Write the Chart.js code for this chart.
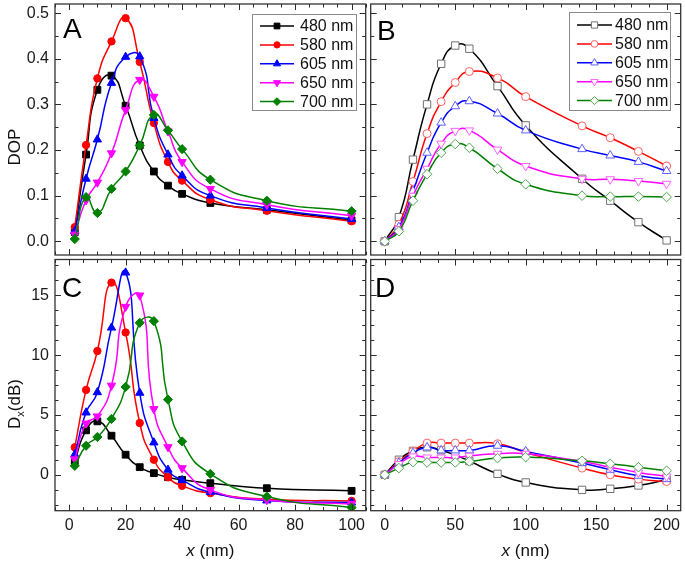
<!DOCTYPE html>
<html><head><meta charset="utf-8">
<script src="https://cdn.jsdelivr.net/npm/chart.js@4.4.1/dist/chart.umd.min.js"></script>
<style>
html,body{margin:0;padding:0;background:#fff;}
#wrap{position:relative;width:685px;height:564px;overflow:hidden;background:#fff;}
#wrap canvas{position:absolute;left:0;top:0;}
</style></head><body>
<div id="wrap">
<canvas id="cA" width="685" height="564"></canvas>
<canvas id="cB" width="685" height="564"></canvas>
<canvas id="cC" width="685" height="564"></canvas>
<canvas id="cD" width="685" height="564"></canvas>
</div>
<script>
// ---------- data ----------
const seriesLabels = ['480 nm', '580 nm', '605 nm', '650 nm', '700 nm'];

// panels A and C (filled markers)
const xAC = [2, 6, 10, 15, 20, 25, 30, 35, 40, 50, 70, 100];
const dopA480 = [0.020, 0.190, 0.332, 0.363, 0.297, 0.210, 0.153, 0.122, 0.104, 0.084, 0.069, 0.046];
const dopA580 = [0.031, 0.211, 0.357, 0.438, 0.489, 0.393, 0.259, 0.174, 0.133, 0.091, 0.067, 0.044];
const dopA605 = [0.022, 0.137, 0.223, 0.347, 0.404, 0.405, 0.270, 0.190, 0.144, 0.100, 0.073, 0.049];
const dopA650 = [0.015, 0.090, 0.129, 0.193, 0.288, 0.354, 0.317, 0.241, 0.174, 0.115, 0.080, 0.056];
const dopA700 = [0.005, 0.097, 0.062, 0.115, 0.153, 0.210, 0.277, 0.243, 0.202, 0.135, 0.089, 0.066];

const dxC480 = [1.15, 3.72, 4.47, 3.27, 1.68, 0.64, 0.14, -0.20, -0.42, -0.70, -1.12, -1.34];
const dxC580 = [2.30, 7.10, 10.35, 16.07, 11.90, 4.33, 1.26, -0.20, -0.92, -1.53, -2.04, -2.18];
const dxC605 = [1.70, 5.20, 6.90, 12.30, 16.90, 6.85, 2.70, 0.42, -0.45, -1.45, -2.15, -2.32];
const dxC650 = [1.30, 4.30, 4.89, 7.46, 14.05, 15.00, 5.50, 2.32, 0.56, -1.26, -2.10, -2.43];
const dxC700 = [0.75, 2.43, 3.16, 4.67, 7.35, 12.71, 12.85, 6.29, 2.79, 0.08, -1.82, -2.74];

// panels B and D (open markers)
const xBD = [0, 10, 20, 30, 40, 50, 60, 80, 100, 140, 160, 180, 200];
const dopB480 = [0, 0.053, 0.179, 0.300, 0.389, 0.429, 0.422, 0.340, 0.254, 0.137, 0.089, 0.042, 0.002];
const dopB580 = [0, 0.037, 0.131, 0.236, 0.306, 0.348, 0.372, 0.358, 0.317, 0.253, 0.227, 0.197, 0.165];
const dopB605 = [0, 0.031, 0.110, 0.194, 0.260, 0.296, 0.307, 0.280, 0.243, 0.202, 0.188, 0.174, 0.154];
const dopB650 = [0, 0.027, 0.100, 0.159, 0.214, 0.242, 0.243, 0.201, 0.165, 0.137, 0.136, 0.132, 0.126];
const dopB700 = [0, 0.022, 0.089, 0.147, 0.194, 0.213, 0.205, 0.159, 0.125, 0.100, 0.098, 0.098, 0.097];

const dxD480 = [0, 1.26, 2.00, 2.30, 2.05, 1.65, 1.15, 0.08, -0.64, -1.26, -1.17, -0.89, -0.42];
const dxD580 = [0, 1.10, 1.96, 2.65, 2.65, 2.65, 2.65, 2.60, 1.87, 0.56, 0.00, -0.36, -0.56];
const dxD605 = [0, 1.00, 1.82, 2.29, 2.04, 2.04, 2.04, 2.43, 1.96, 0.98, 0.42, -0.08, -0.36];
const dxD650 = [0, 0.90, 1.54, 1.45, 1.45, 1.45, 1.59, 1.76, 1.76, 1.12, 0.64, 0.20, -0.14];
const dxD700 = [0, 0.56, 1.06, 1.03, 1.03, 1.03, 1.12, 1.40, 1.48, 1.17, 0.92, 0.64, 0.34];

// tick labels
const xTicksAC = [0, 20, 40, 60, 80, 100];
const xTicksBD = [0, 50, 100, 150, 200];
const yTicksAB = [0.0, 0.1, 0.2, 0.3, 0.4, 0.5];
const yTicksCD = [0, 5, 10, 15];

// ---------- styles ----------
const FONT = "'Liberation Sans', Arial, Helvetica, sans-serif";
const seriesColors = ['#000000', '#ff0000', '#0000ff', '#ff00ff', '#008000'];
const openEdge = ['#707070', '#ff6060', '#6060ff', '#ff60ff', '#50a850'];
const pStyles = ['rect', 'circle', 'triangle', 'triangle', 'rectRot'];
const pRot = [0, 0, 0, 180, 0];
const pRadFilled = [4.8, 3.7, 4.8, 4.8, 4.6];
const pRadOpen = [5.2, 4.0, 5.0, 5.0, 4.8];

function marker(ctx, style, rot, r, x, y) {
  if (Chart.helpers && Chart.helpers.drawPoint) {
    Chart.helpers.drawPoint(ctx, {pointStyle: style, rotation: rot, radius: r, borderWidth: ctx.lineWidth}, x, y);
    return;
  }
  ctx.beginPath(); ctx.arc(x, y, r, 0, Math.PI * 2); ctx.fill(); ctx.stroke();
}

const decor = {
  id: 'decor',
  afterDraw(chart, args, o) {
    const ctx = chart.ctx, a = chart.chartArea, sx = chart.scales.x, sy = chart.scales.y;
    ctx.save();
    // ticks (inward, all four sides)
    ctx.strokeStyle = '#2b2b2b';
    ctx.lineWidth = 1;
    ctx.beginPath();
    const kx0 = Math.ceil(sx.min / o.xMinor - 1e-9), kx1 = Math.floor(sx.max / o.xMinor + 1e-9);
    for (let k = kx0; k <= kx1; k++) {
      const v = k * o.xMinor;
      const major = Math.abs(v / o.xMajor - Math.round(v / o.xMajor)) < 1e-6;
      const len = major ? 6 : 3.5;
      const p = Math.round(sx.getPixelForValue(v)) + 0.5;
      ctx.moveTo(p, a.bottom); ctx.lineTo(p, a.bottom - len);
      ctx.moveTo(p, a.top); ctx.lineTo(p, a.top + len);
    }
    const ky0 = Math.ceil(sy.min / o.yMinor - 1e-9), ky1 = Math.floor(sy.max / o.yMinor + 1e-9);
    for (let k = ky0; k <= ky1; k++) {
      const v = k * o.yMinor;
      const major = Math.abs(v / o.yMajor - Math.round(v / o.yMajor)) < 1e-6;
      const len = major ? 6 : 3.5;
      const p = Math.round(sy.getPixelForValue(v)) + 0.5;
      ctx.moveTo(a.left, p); ctx.lineTo(a.left + len, p);
      ctx.moveTo(a.right, p); ctx.lineTo(a.right - len, p);
    }
    ctx.stroke();
    // frame
    ctx.lineWidth = 1.3;
    ctx.strokeStyle = '#333';
    ctx.strokeRect(a.left, a.top, a.right - a.left, a.bottom - a.top);

    // panel letter
    ctx.fillStyle = '#000';
    ctx.font = '28px ' + FONT;
    ctx.textBaseline = 'alphabetic';
    ctx.textAlign = 'left';
    ctx.fillText(o.letter, o.letterX, o.letterY);

    // legend
    if (o.legend) {
      const L = o.legend;
      ctx.fillStyle = '#fff';
      ctx.fillRect(L.x, L.y, L.w, L.h);
      ctx.strokeStyle = '#8a8a8a';
      ctx.lineWidth = 1;
      ctx.strokeRect(L.x + 0.5, L.y + 0.5, L.w, L.h);
      chart.data.datasets.forEach((ds, i) => {
        const yy = L.row0 + i * L.step;
        ctx.strokeStyle = ds.borderColor;
        ctx.lineWidth = 1.5;
        ctx.beginPath(); ctx.moveTo(L.lx0, yy); ctx.lineTo(L.lx1, yy); ctx.stroke();
        ctx.fillStyle = ds.pointBackgroundColor;
        ctx.strokeStyle = ds.pointBorderColor;
        ctx.lineWidth = ds.pointBorderWidth;
        marker(ctx, ds.pointStyle, ds.pointRotation, ds.pointRadius * 0.85, (L.lx0 + L.lx1) / 2, yy);
        ctx.fillStyle = '#111';
        ctx.font = '16px ' + FONT;
        ctx.textBaseline = 'middle';
        ctx.textAlign = 'left';
        ctx.fillText(ds.label, L.tx, yy + 0.5);
      });
    }

    // y title
    if (o.yTitle) {
      const T = o.yTitle;
      ctx.save();
      ctx.translate(T.x, T.y);
      ctx.rotate(-Math.PI / 2);
      ctx.fillStyle = '#111';
      ctx.textBaseline = 'alphabetic';
      ctx.textAlign = 'left';
      const parts = T.parts;
      let w = 0;
      parts.forEach(p => { ctx.font = p.size + 'px ' + FONT; w += ctx.measureText(p.t).width; });
      let cx = -w / 2;
      parts.forEach(p => {
        ctx.font = p.size + 'px ' + FONT;
        ctx.fillText(p.t, cx, 6 + (p.dy || 0));
        cx += ctx.measureText(p.t).width;
      });
      ctx.restore();
    }
    // x title
    if (o.xTitle) {
      const cxm = (a.left + a.right) / 2;
      ctx.fillStyle = '#111';
      ctx.textBaseline = 'alphabetic';
      ctx.textAlign = 'left';
      const p1 = 'x', p2 = ' (nm)';
      ctx.font = 'italic 17px ' + FONT; const w1 = ctx.measureText(p1).width;
      ctx.font = '17px ' + FONT; const w2 = ctx.measureText(p2).width;
      let x0 = cxm - (w1 + w2) / 2;
      ctx.font = 'italic 17px ' + FONT; ctx.fillText(p1, x0, o.xTitle.y);
      ctx.font = '17px ' + FONT; ctx.fillText(p2, x0 + w1, o.xTitle.y);
    }
    ctx.restore();
  }
};

function panel(id, cfg) {
  const datasets = cfg.series.map((vals, i) => ({
    label: seriesLabels[i],
    data: cfg.x.map((xv, j) => ({x: xv, y: vals[j]})),
    borderColor: seriesColors[i],
    backgroundColor: seriesColors[i],
    borderWidth: 1.5,
    tension: 0.55,
    pointStyle: pStyles[i],
    pointRotation: pRot[i],
    pointRadius: cfg.open ? pRadOpen[i] : pRadFilled[i],
    pointBackgroundColor: cfg.open ? '#ffffff' : seriesColors[i],
    pointBorderColor: cfg.open ? openEdge[i] : seriesColors[i],
    pointBorderWidth: 1,
    order: 5 - i
  }));
  const A = cfg.area;
  const bottomGap = 564 - A.bottom;
  const fixH = s => { s.height = bottomGap; s.paddingLeft = 0; s.paddingRight = 0; s.paddingTop = 0; s.paddingBottom = 0; };
  const fixW = s => { s.width = A.left; s.paddingLeft = 0; s.paddingRight = 0; s.paddingTop = 0; s.paddingBottom = 0; };
  return new Chart(document.getElementById(id), {
    type: 'line',
    data: {datasets},
    options: {
      responsive: false,
      devicePixelRatio: 1,
      animation: false,
      events: [],
      layout: {autoPadding: false, padding: {left: 0, top: A.top, right: 685 - A.right, bottom: 0}},
      plugins: {legend: {display: false}, tooltip: {enabled: false}, decor: cfg.decor},
      scales: {
        x: {
          type: 'linear', position: 'bottom', min: cfg.xMin, max: cfg.xMax,
          afterBuildTicks: s => { s.ticks = cfg.xTicks.map(v => ({value: v})); },
          afterFit: fixH,
          grid: {display: false, drawTicks: false}, border: {display: false},
          ticks: {display: cfg.showX, padding: 5, autoSkip: false, maxRotation: 0, color: '#1a1a1a',
                  font: {family: FONT, size: 16}, callback: v => String(v)}
        },
        y: {
          type: 'linear', position: 'left', min: cfg.yMin, max: cfg.yMax,
          afterBuildTicks: s => { s.ticks = cfg.yTicks.map(v => ({value: v})); },
          afterFit: fixW,
          grid: {display: false, drawTicks: false}, border: {display: false},
          ticks: {display: cfg.showY, padding: 6, autoSkip: false, color: '#1a1a1a',
                  font: {family: FONT, size: 16}, callback: v => cfg.yFmt(v)}
        }
      }
    },
    plugins: [decor]
  });
}

const fmt1 = v => Number(v).toFixed(1);
const fmt0 = v => String(Math.round(v));

panel('cA', {
  x: xAC, series: [dopA480, dopA580, dopA605, dopA650, dopA700], open: false,
  area: {left: 55, top: 4, right: 365.7, bottom: 255},
  xMin: -5, xMax: 105, yMin: -0.03, yMax: 0.52, xTicks: xTicksAC, yTicks: yTicksAB,
  showX: false, showY: true, yFmt: fmt1,
  decor: {xMajor: 20, xMinor: 5, yMajor: 0.1, yMinor: 0.05, letter: 'A', letterX: 63, letterY: 38,
    legend: {x: 252, y: 14, w: 104, h: 96, row0: 26, step: 18.9, lx0: 260, lx1: 294, tx: 300},
    yTitle: {x: 14, y: 147, parts: [{t: 'DOP', size: 17}]}}
});
panel('cB', {
  x: xBD, series: [dopB480, dopB580, dopB605, dopB650, dopB700], open: true,
  area: {left: 370.7, top: 4, right: 680.7, bottom: 255},
  xMin: -10, xMax: 210, yMin: -0.03, yMax: 0.52, xTicks: xTicksBD, yTicks: yTicksAB,
  showX: false, showY: false, yFmt: fmt1,
  decor: {xMajor: 50, xMinor: 12.5, yMajor: 0.1, yMinor: 0.05, letter: 'B', letterX: 377, letterY: 40,
    legend: {x: 569, y: 12, w: 101, h: 98, row0: 25, step: 18.9, lx0: 577, lx1: 612, tx: 615}}
});
panel('cC', {
  x: xAC, series: [dxC480, dxC580, dxC605, dxC650, dxC700], open: false,
  area: {left: 55, top: 259.5, right: 365.7, bottom: 510.7},
  xMin: -5, xMax: 105, yMin: -3, yMax: 18, xTicks: xTicksAC, yTicks: yTicksCD,
  showX: true, showY: true, yFmt: fmt0,
  decor: {xMajor: 20, xMinor: 5, yMajor: 5, yMinor: 1.25, letter: 'C', letterX: 62, letterY: 297,
    yTitle: {x: 14, y: 404, parts: [{t: 'D', size: 17}, {t: 'x', size: 11, dy: 4}, {t: '(dB)', size: 17}]},
    xTitle: {y: 556}}
});
panel('cD', {
  x: xBD, series: [dxD480, dxD580, dxD605, dxD650, dxD700], open: true,
  area: {left: 370.7, top: 259.5, right: 680.7, bottom: 510.7},
  xMin: -10, xMax: 210, yMin: -3, yMax: 18, xTicks: xTicksBD, yTicks: yTicksCD,
  showX: true, showY: false, yFmt: fmt0,
  decor: {xMajor: 50, xMinor: 12.5, yMajor: 5, yMinor: 1.25, letter: 'D', letterX: 375, letterY: 297,
    xTitle: {y: 556}}
});
</script>
</body></html>
